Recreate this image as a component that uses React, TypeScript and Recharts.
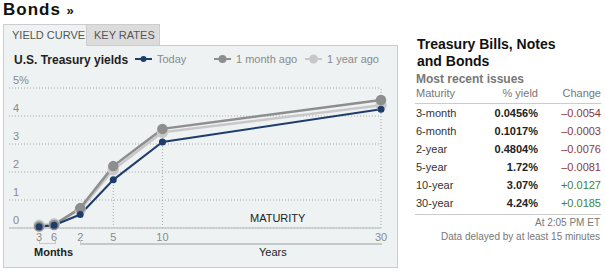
import React from "react";
import { LineChart, Line, XAxis, YAxis, CartesianGrid, ReferenceLine } from "recharts";

// maturities on the curve
const maturities = ["3-month", "6-month", "2-year", "5-year", "10-year", "30-year"];
const maturityYears = [0.25, 0.5, 2, 5, 10, 30];
const xTickLabels = ["3", "6", "2", "5", "10", "30"];

// yields in percent
const today = [0.0456, 0.1017, 0.4804, 1.72, 3.07, 4.24];
const monthAgo = [0.05, 0.11, 0.71, 2.21, 3.54, 4.57];
const yearAgo = [0.1, 0.15, 0.65, 2.08, 3.42, 4.38];

// table
const yieldLabels = ["0.0456%", "0.1017%", "0.4804%", "1.72%", "3.07%", "4.24%"];
const changes = [-0.0054, -0.0003, -0.0076, -0.0081, 0.0127, 0.0185];

const yTicks = [0, 1, 2, 3, 4, 5];

const chartData = maturityYears.map((y, i) => ({
  years: y,
  today: today[i],
  month: monthAgo[i],
  year: yearAgo[i],
}));

const NAVY = "#1f3d6a";
const GRAY = "#8e8e8e";
const LIGHT = "#c8c8c8";
const FONT = "'Liberation Sans', Arial, sans-serif";

// broken maturity axis: months part stretched, years part after it
const knotYears = [0, 0.25, 0.5, 2, 5, 10, 30];
const knotFrac = [0, 0.0809, 0.1213, 0.1914, 0.2803, 0.4124, 1];

function brokenScale(): any {
  let dom: number[] = [0, 30];
  let rng: number[] = [0, 1];
  const s: any = (v: number) => {
    let f = 0;
    if (v <= knotYears[0]) f = knotFrac[0];
    else if (v >= knotYears[knotYears.length - 1]) f = 1;
    else {
      for (let i = 1; i < knotYears.length; i++) {
        if (v <= knotYears[i]) {
          const t = (v - knotYears[i - 1]) / (knotYears[i] - knotYears[i - 1]);
          f = knotFrac[i - 1] + t * (knotFrac[i] - knotFrac[i - 1]);
          break;
        }
      }
    }
    return rng[0] + f * (rng[1] - rng[0]);
  };
  s.domain = (d?: number[]) => {
    if (d === undefined) return dom;
    dom = d;
    return s;
  };
  s.range = (r?: number[]) => {
    if (r === undefined) return rng;
    rng = r;
    return s;
  };
  s.copy = () => brokenScale().domain(dom).range(rng);
  s.ticks = () => maturityYears;
  return s;
}

const YTick = (props: any) => {
  const { x, y, payload } = props;
  return (
    <text x={x + 2} y={y - 8} dy="0.35em" textAnchor="start" fill="#8a8a8a" fontSize={11} fontFamily={FONT}>
      {payload.value === 5 ? "5%" : payload.value}
    </text>
  );
};

const LegendItem = ({ color, r, label, left }: any) => (
  <div style={{ position: "absolute", left, top: 53, display: "flex", alignItems: "center", fontSize: 11, color: "#8a8a8a" }}>
    <svg width={18} height={10}>
      <line x1={0} y1={5} x2={17} y2={5} stroke={color} strokeWidth={2} />
      <circle cx={8.5} cy={5} r={r} fill={color} />
    </svg>
    <span style={{ marginLeft: 4 }}>{label}</span>
  </div>
);

export default function App() {
  return (
    <div style={{ position: "absolute", left: 0, top: 0, width: 605, height: 280, background: "#fff", fontFamily: FONT, overflow: "hidden" }}>
      <div style={{ position: "absolute", left: 3, top: 0, fontSize: 17, fontWeight: "bold", color: "#111", letterSpacing: 1 }}>
        Bonds <span style={{ fontSize: 13 }}>»</span>
      </div>

      {/* tabs */}
      <div style={{ position: "absolute", left: 87, top: 24, width: 73, height: 21, background: "#dcdcdc", borderTop: "1px solid #ccc", borderRight: "1px solid #ccc", boxSizing: "border-box", fontSize: 11, color: "#555", lineHeight: "20px", paddingLeft: 7 }}>
        KEY RATES
      </div>
      <div style={{ position: "absolute", left: 3, top: 45, width: 395, height: 223, background: "#eff2f3", border: "1px solid #ccc", boxSizing: "border-box" }} />
      <div style={{ position: "absolute", left: 3, top: 24, width: 84, height: 22, background: "#eff2f3", borderTop: "1px solid #ccc", borderLeft: "1px solid #ccc", borderRight: "1px solid #ccc", boxSizing: "border-box", fontSize: 11, color: "#555", lineHeight: "20px", paddingLeft: 8 }}>
        YIELD CURVE
      </div>

      <div style={{ position: "absolute", left: 14, top: 53, fontSize: 12, fontWeight: "bold", color: "#222" }}>U.S. Treasury yields</div>
      <LegendItem color={NAVY} r={3} label="Today" left={135} />
      <LegendItem color={GRAY} r={4} label="1 month ago" left={214} />
      <LegendItem color={LIGHT} r={4.5} label="1 year ago" left={305} />

      <div style={{ position: "absolute", left: 3, top: 45 }}>
        <LineChart width={394} height={222} data={chartData} margin={{ top: 43, right: 16, bottom: 19, left: 6 }}>
          <CartesianGrid vertical={false} stroke="#a8a8a8" strokeDasharray="1 2" />
          <XAxis
            dataKey="years"
            type="number"
            domain={[0, 30]}
            scale={brokenScale()}
            ticks={maturityYears}
            tickFormatter={(v: number) => xTickLabels[maturityYears.indexOf(v)]}
            tickLine={false}
            tickSize={0}
            tickMargin={5}
            axisLine={{ stroke: "#c6c9ca", strokeWidth: 1.5 }}
            tick={{ fill: "#8a8a8a", fontSize: 11, fontFamily: FONT }}
            height={20}
          />
          <YAxis
            width={1}
            domain={[0, 5]}
            ticks={yTicks}
            axisLine={false}
            tickLine={false}
            mirror
            tickSize={0}
            tickMargin={2}
            tick={<YTick />}
          />
          <ReferenceLine segment={[{ x: 5, y: 0 }, { x: 5, y: today[3] }]} stroke="#a8a8a8" strokeDasharray="1 2" />
          <ReferenceLine segment={[{ x: 10, y: 0 }, { x: 10, y: today[4] }]} stroke="#a8a8a8" strokeDasharray="1 2" />
          <ReferenceLine x={30} stroke="#a8a8a8" strokeDasharray="1 2" />
          <Line dataKey="year" stroke={LIGHT} strokeWidth={2.5} dot={{ r: 4.5, fill: LIGHT, stroke: LIGHT }} isAnimationActive={false} />
          <Line dataKey="month" stroke={GRAY} strokeWidth={2.5} dot={{ r: 4, fill: GRAY, stroke: GRAY }} isAnimationActive={false} />
          <Line dataKey="today" stroke={NAVY} strokeWidth={2} dot={{ r: 2.5, fill: NAVY, stroke: NAVY }} isAnimationActive={false} />
        </LineChart>
      </div>

      <div style={{ position: "absolute", left: 250, top: 212, fontSize: 11, color: "#222" }}>MATURITY</div>
      {/* axis brackets */}
      <div style={{ position: "absolute", left: 39, top: 241, width: 17, height: 3, borderLeft: "1px solid #c6c9ca", borderRight: "1px solid #c6c9ca", borderBottom: "1px solid #c6c9ca", boxSizing: "border-box" }} />
      <div style={{ position: "absolute", left: 80, top: 240, width: 302, height: 5, borderLeft: "1px solid #c6c9ca", borderBottom: "2px solid #c6c9ca", boxSizing: "border-box" }} />
      <div style={{ position: "absolute", left: 34, top: 246, fontSize: 11, fontWeight: "bold", color: "#222" }}>Months</div>
      <div style={{ position: "absolute", left: 259, top: 246, fontSize: 11, color: "#222" }}>Years</div>

      {/* table */}
      <div style={{ position: "absolute", left: 417, top: 38, fontSize: 14, fontWeight: "bold", color: "#111", lineHeight: "13px" }}>
        Treasury Bills, Notes
      </div>
      <div style={{ position: "absolute", left: 417, top: 55, fontSize: 14, fontWeight: "bold", color: "#111", lineHeight: "13px" }}>
        and Bonds
      </div>
      <div style={{ position: "absolute", left: 416, top: 72, fontSize: 12, fontWeight: "bold", color: "#777" }}>Most recent issues</div>
      <div style={{ position: "absolute", left: 416, top: 87, width: 185, display: "grid", gridTemplateColumns: "70px 52px 63px", fontSize: 11, color: "#777" }}>
        <span>Maturity</span>
        <span style={{ textAlign: "right" }}>% yield</span>
        <span style={{ textAlign: "right" }}>Change</span>
      </div>
      <div style={{ position: "absolute", left: 415, top: 103, width: 186, height: 1, background: "#ccc" }} />
      {maturities.map((m, i) => (
        <div key={m} style={{ position: "absolute", left: 416, top: 106 + i * 18, width: 185, display: "grid", gridTemplateColumns: "70px 52px 63px", fontSize: 11, lineHeight: "14px" }}>
          <span style={{ color: "#333" }}>{m}</span>
          <span style={{ textAlign: "right", fontWeight: "bold", color: "#222" }}>{yieldLabels[i]}</span>
          <span style={{ textAlign: "right", color: changes[i] < 0 ? "#8b3a3a" : "#3f7f3f" }}>
            {changes[i] < 0 ? "\u2013" : "+"}
            {Math.abs(changes[i]).toFixed(4)}
          </span>
        </div>
      ))}
      <div style={{ position: "absolute", left: 415, top: 214, width: 186, height: 1, background: "#ccc" }} />
      <div style={{ position: "absolute", right: 5, top: 216, fontSize: 10, color: "#777", textAlign: "right", lineHeight: "14px" }}>
        At 2:05 PM ET
        <br />
        Data delayed by at least 15 minutes
      </div>
    </div>
  );
}
